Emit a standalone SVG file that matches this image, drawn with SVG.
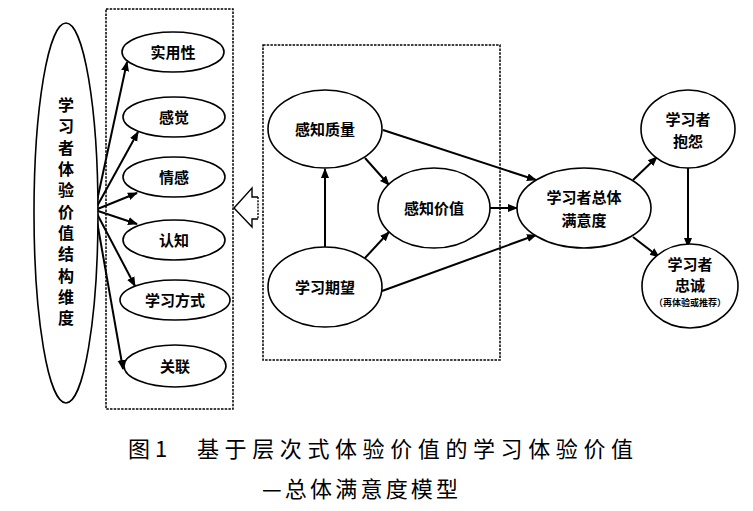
<svg xmlns="http://www.w3.org/2000/svg" width="753" height="511" viewBox="0 0 753 511">
<defs>
<style>
.n{fill:#fff;stroke:#000;stroke-width:1.6}
.t{font-family:"Liberation Sans","Noto Sans CJK SC",sans-serif;font-weight:bold;font-size:15px;text-anchor:middle;fill:#000}
.s{font-size:9px}
.v{font-size:16px}
.box{fill:none;stroke:#000;stroke-width:1.5;stroke-dasharray:2.5 1.2}
.c{stroke:#000;stroke-width:2;fill:none;marker-end:url(#ah)}
.cap{font-family:"Noto Sans CJK SC",sans-serif;font-size:22px;fill:#000}
</style>
<marker id="ah" markerUnits="userSpaceOnUse" markerWidth="10" markerHeight="10" viewBox="0 0 10 10" refX="9" refY="5" orient="auto">
<path d="M0,1 L10,5 L0,9 z" fill="#000"/>
</marker>
</defs>
<rect width="753" height="511" fill="#fff"/>
<rect class="box" x="106" y="9" width="127" height="400"/>
<rect class="box" x="263" y="45" width="237" height="315"/>
<path d="M258,197 L252,197 L252,188 L234,208 L252,227 L252,219 L258,219" fill="#fff" stroke="#000" stroke-width="1.4"/>
<path d="M258,197 L258,219" stroke="#000" stroke-width="1.4" stroke-dasharray="2 1.2"/>
<g id="connectors">
<line class="c" x1="95" y1="210" x2="127" y2="62"/>
<line class="c" x1="95" y1="210" x2="138" y2="132"/>
<line class="c" x1="95" y1="210" x2="137" y2="193"/>
<line class="c" x1="95" y1="210" x2="137" y2="224"/>
<line class="c" x1="95" y1="210" x2="135" y2="286"/>
<line class="c" x1="95" y1="210" x2="123" y2="369"/>
<line class="c" x1="325" y1="247" x2="325" y2="169"/>
<line class="c" x1="365" y1="158" x2="389" y2="185"/>
<line class="c" x1="365" y1="258" x2="389" y2="232"/>
<line class="c" x1="383" y1="130" x2="536" y2="180"/>
<line class="c" x1="490" y1="208" x2="517" y2="208"/>
<line class="c" x1="382" y1="291" x2="536" y2="235"/>
<line class="c" x1="633" y1="180" x2="657" y2="157"/>
<line class="c" x1="633" y1="237" x2="659" y2="257"/>
<line class="c" x1="688" y1="168" x2="688" y2="247"/>
</g>
<g id="dim">
<ellipse class="n" cx="66" cy="213" rx="32" ry="190"/>
<text class="t v"><tspan x="66" y="111">学</tspan><tspan x="66" y="132">习</tspan><tspan x="66" y="154">者</tspan><tspan x="66" y="175">体</tspan><tspan x="66" y="196">验</tspan><tspan x="66" y="218">价</tspan><tspan x="66" y="239">值</tspan><tspan x="66" y="260">结</tspan><tspan x="66" y="282">构</tspan><tspan x="66" y="303">维</tspan><tspan x="66" y="324">度</tspan></text>
</g>
<g id="n1"><ellipse class="n" cx="173" cy="52" rx="51" ry="20"/><text class="t" x="173" y="58">实用性</text></g>
<g id="n2"><ellipse class="n" cx="174" cy="117" rx="51" ry="20"/><text class="t" x="174" y="123">感觉</text></g>
<g id="n3"><ellipse class="n" cx="174" cy="177" rx="51" ry="20"/><text class="t" x="174" y="183">情感</text></g>
<g id="n4"><ellipse class="n" cx="174" cy="240" rx="51" ry="20"/><text class="t" x="174" y="246">认知</text></g>
<g id="n5"><ellipse class="n" cx="175" cy="300" rx="55" ry="20"/><text class="t" x="175" y="306">学习方式</text></g>
<g id="n6"><ellipse class="n" cx="175" cy="366" rx="51" ry="21"/><text class="t" x="175" y="372">关联</text></g>
<g id="pq"><ellipse class="n" cx="325" cy="129" rx="57" ry="39"/><text class="t" x="325" y="135">感知质量</text></g>
<g id="le"><ellipse class="n" cx="325" cy="287" rx="57" ry="40"/><text class="t" x="325" y="293">学习期望</text></g>
<g id="pv"><ellipse class="n" cx="434" cy="208" rx="56" ry="40"/><text class="t" x="434" y="214">感知价值</text></g>
<g id="sat"><ellipse class="n" cx="584" cy="208" rx="67" ry="40"/><text class="t" x="584" y="203">学习者总体</text><text class="t" x="584" y="226">满意度</text></g>
<g id="comp"><ellipse class="n" cx="688" cy="129" rx="47" ry="39"/><text class="t" x="688" y="125">学习者</text><text class="t" x="688" y="147">抱怨</text></g>
<g id="loy"><ellipse class="n" cx="690" cy="286" rx="48" ry="42"/><text class="t" x="690" y="270">学习者</text><text class="t" x="690" y="291">忠诚</text><text class="t s" x="690" y="306">（再体验或推荐）</text></g>
<text class="cap" x="128" y="457">图 1</text>
<text class="cap" x="197" y="457" letter-spacing="5.6">基于层次式体验价值的学习体验价值</text>
<text class="cap" x="262" y="497" letter-spacing="3.2">—总体满意度模型</text>
</svg>
